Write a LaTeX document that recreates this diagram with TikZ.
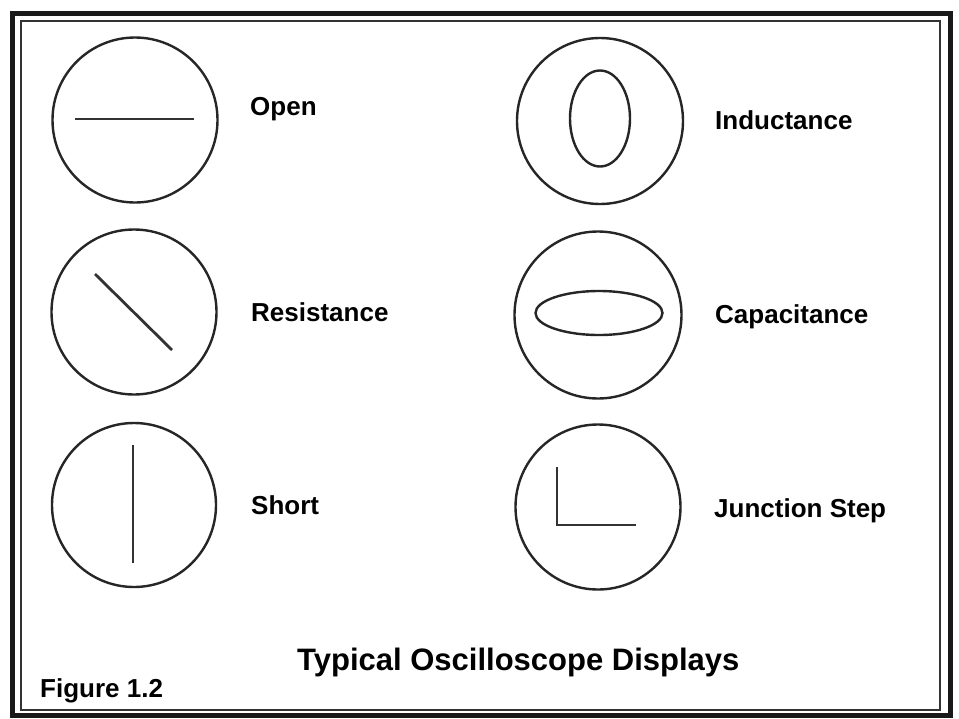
\documentclass[tikz,border=0pt]{standalone}
\usepackage{fontspec}
\setmainfont{Liberation Sans}
\usetikzlibrary{shapes.geometric}
\begin{document}
\begin{tikzpicture}[x=1pt,y=-1pt,
  screen/.style={draw=black!85, line width=2.4pt},
  trace/.style={draw=black!80, line width=2pt},
  lbl/.style={anchor=base west, inner sep=0pt, font=\fontsize{26}{30}\selectfont\bfseries, text=black},
  outerframe/.style={draw=black!90, line width=5pt},
  innerframe/.style={draw=black!80, line width=1.4pt}]
\useasboundingbox (0,0) rectangle (959,718);
\fill[white] (0,0) rectangle (959,718);
% frame
\draw[outerframe] (12,13) rectangle (950,715);
\draw[innerframe] (21,21) rectangle (940,710);
% Open
\node[screen, circle, minimum size=165pt, inner sep=0pt] (c1) at (135,120) {};
\coordinate (o1) at (75,119); \coordinate (o2) at (194,119);
\draw[trace] (o1) -- (o2);
\node[lbl] (t1) at (250,115) {Open};
% Resistance
\node[screen, circle, minimum size=165pt, inner sep=0pt] (c2) at (134,312) {};
\coordinate (r1) at (95,274); \coordinate (r2) at (172,350);
\draw[trace, line width=2.8pt] (r1) -- (r2);
\node[lbl] (t2) at (251,321) {Resistance};
% Short
\node[screen, circle, minimum size=164pt, inner sep=0pt] (c3) at (134,505) {};
\coordinate (s1) at (133,445); \coordinate (s2) at (133,563);
\draw[trace] (s1) -- (s2);
\node[lbl] (t3) at (251,514) {Short};
% Inductance
\node[screen, circle, minimum size=166pt, inner sep=0pt] (c4) at (600,121) {};
\node[screen, ellipse, minimum width=60pt, minimum height=96pt, inner sep=0pt] (e4) at (600,118.5) {};
\node[lbl] (t4) at (715,129) {Inductance};
% Capacitance
\node[screen, circle, minimum size=167pt, inner sep=0pt] (c5) at (598,315) {};
\node[screen, ellipse, minimum width=127pt, minimum height=44pt, inner sep=0pt] (e5) at (599,313) {};
\node[lbl] (t5) at (715,323) {Capacitance};
% Junction Step
\node[screen, circle, minimum size=165pt, inner sep=0pt] (c6) at (598,507) {};
\coordinate (j1) at (557,467); \coordinate (j2) at (557,525); \coordinate (j3) at (636,525);
\draw[trace] (j1) -- (j2) -- (j3);
\node[lbl] (t6) at (714,517) {Junction Step};
% captions
\node[lbl, font=\fontsize{31}{36}\selectfont\bfseries] (title) at (297,670) {Typical Oscilloscope Displays};
\node[lbl] (fig) at (40,697) {Figure 1.2};
\end{tikzpicture}
\end{document}
